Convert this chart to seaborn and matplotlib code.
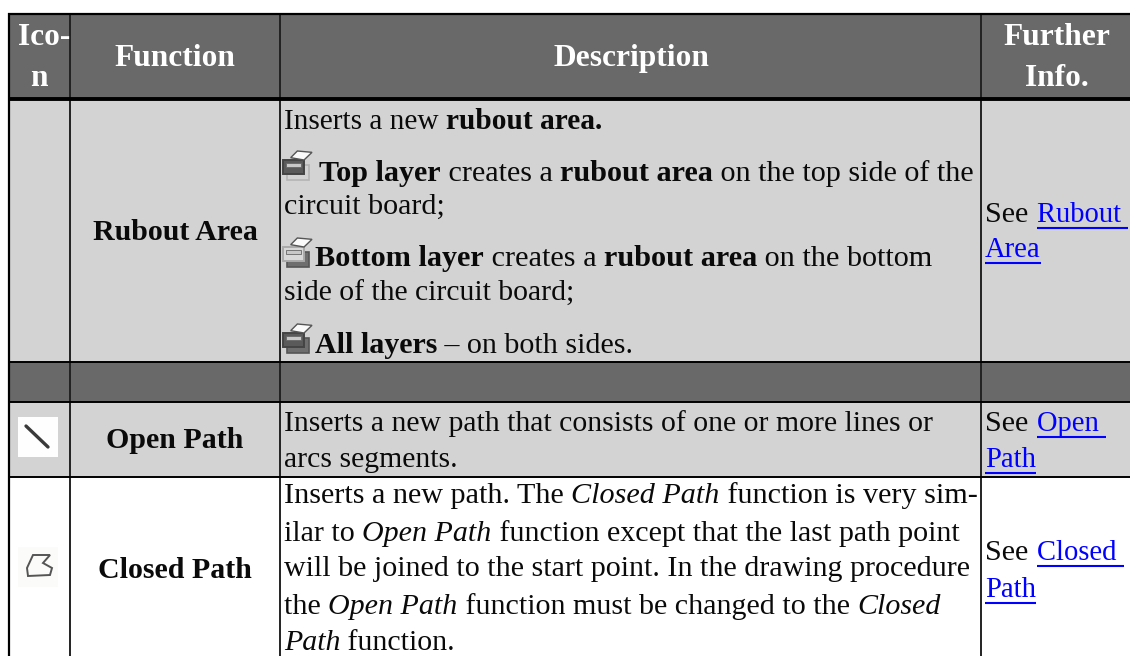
#!/usr/bin/env python
import seaborn as sns
import matplotlib
matplotlib.use('Agg')
import matplotlib.pyplot as plt
from matplotlib.patches import Polygon, Rectangle

# - Table content
header_lines = [['Ico-', 'n'], ['Function'], ['Description'], ['Further', 'Info.']]
function_names = ['Rubout Area', '', 'Open Path', 'Closed Path']

rubout_lines = [
    [('Inserts a new ', 'r'), ('rubout area.', 'b')],
    [('Top layer', 'b'), (' creates a ', 'r'), ('rubout area', 'b'), (' on the top side of the', 'r')],
    [('circuit board;', 'r')],
    [('Bottom layer', 'b'), (' creates a ', 'r'), ('rubout area', 'b'), (' on the bottom', 'r')],
    [('side of the circuit board;', 'r')],
    [('All layers', 'b'), (' \u2013 on both sides.', 'r')],
]
open_lines = [
    [('Inserts a new path that consists of one or more lines or', 'r')],
    [('arcs segments.', 'r')],
]
closed_lines = [
    [('Inserts a new path. The ', 'r'), ('Closed Path', 'i'), (' function is very sim-', 'r')],
    [('ilar to ', 'r'), ('Open Path', 'i'), (' function except that the last path point', 'r')],
    [('will be joined to the start point. In the drawing procedure', 'r')],
    [('the ', 'r'), ('Open Path', 'i'), (' function must be changed to the ', 'r'), ('Closed', 'i')],
    [('Path', 'i'), (' function.', 'r')],
]
info_links = [['Rubout ', 'Area'], ['Open ', 'Path'], ['Closed ', 'Path']]

# - Pixel layout
W, H = 1130, 656
col_lines = [70, 280, 981]
col_centres = [39, 175, 631, 1057]
row_edges = [14, 99, 362, 402, 477, 656]
row_colours = sns.color_palette(['#696969', '#d3d3d3', '#696969', '#d3d3d3', '#ffffff'])

BODY = 21.6
HEAD = 22.6
NAME = 21.5
LINK = 20.6
STYLES = {'r': {}, 'b': {'fontweight': 'bold'}, 'i': {'fontstyle': 'italic'}}

sns.set_theme(style='white')
plt.rcParams['font.family'] = ['Liberation Serif', 'DejaVu Serif']

fig = plt.figure(figsize=(W / 100, H / 100), dpi=100)
ax = fig.add_axes([0, 0, 1, 1])
ax.set_xlim(0, W)
ax.set_ylim(H, 0)
ax.axis('off')
renderer = fig.canvas.get_renderer()


def run_width(s, style, size=BODY):
    # bars either side so that leading/trailing spaces are counted
    a = ax.text(0, 0, '|' + s + '|', fontsize=size, **STYLES[style])
    b = ax.text(0, 0, '||', fontsize=size, **STYLES[style])
    w = a.get_window_extent(renderer).width - b.get_window_extent(renderer).width
    a.remove()
    b.remove()
    return w


def draw_line(x, y, runs, size=BODY):
    for s, style in runs:
        ax.text(x, y, s, fontsize=size, color='#0a0a0a', va='baseline', ha='left', **STYLES[style])
        x += run_width(s, style, size)


def draw_see(x, y, y2, link, link2):
    ax.text(x, y, 'See', fontsize=BODY, color='#0a0a0a', va='baseline')
    x2 = x + 52
    ax.text(x2, y, link, fontsize=LINK, color='#0000ff', va='baseline')
    ax.plot([x2, min(x2 + run_width(link, 'r', LINK), W - 2)], [y + 6, y + 6], color='#0000ff', lw=1.5, solid_capstyle='butt')
    ax.text(x, y2, link2, fontsize=LINK, color='#0000ff', va='baseline')
    ax.plot([x, x + run_width(link2, 'r', LINK)], [y2 + 6, y2 + 6], color='#0000ff', lw=1.5, solid_capstyle='butt')


def layer_icon(x0, y0, active):
    # three stacked layers, active one is darker
    def pts(p):
        return [(x0 + a / 3, y0 + b / 3) for a, b in p]
    low = '#6e6e6e' if active in ('bottom', 'all') else '#d3d3d3'
    mid = '#5a5a5a' if active in ('top', 'all') else '#d8d8d8'
    ax.add_patch(Polygon(pts([(26, 60), (92, 60), (92, 106), (26, 106)]), fc=low, ec='#555555' if low != '#d3d3d3' else '#b4b4b4', lw=1.2))
    ax.add_patch(Polygon(pts([(16, 44), (78, 44), (78, 88), (16, 88)]), fc=mid, ec='#444444' if mid == '#5a5a5a' else '#aaaaaa', lw=1.4))
    ax.add_patch(Rectangle((x0 + 25 / 3, y0 + 55 / 3), 45 / 3, 12 / 3, fc='#c8c8c8', ec='#666666', lw=.6))
    ax.add_patch(Polygon(pts([(38, 38), (58, 18), (102, 22), (78, 45)]), fc='#fbfbfb', ec='#555555', lw=1.))


# - Row fills
ax.barh(
    [(a + b) / 2 for a, b in zip(row_edges[:-1], row_edges[1:])],
    [W - 9] * 5,
    height=[b - a for a, b in zip(row_edges[:-1], row_edges[1:])],
    left=9,
    color=row_colours,
    linewidth=0,
)

# - Grid lines
for x in col_lines:
    ax.plot([x, x], [14, H], color='#222222', lw=1.4, solid_capstyle='butt')
ax.plot([9, 9], [13, H], color='black', lw=1.6, solid_capstyle='butt')
ax.plot([8, W], [14, 14], color='black', lw=1.6, solid_capstyle='butt')
ax.plot([8, W], [99, 99], color='black', lw=2.8, solid_capstyle='butt')
for y in row_edges[2:5]:
    ax.plot([8, W], [y, y], color='black', lw=1.4, solid_capstyle='butt')

# - Header
for cx, lines in zip(col_centres, header_lines):
    ys = [45, 86] if len(lines) == 2 else [66]
    for y, s in zip(ys, lines):
        x = 44 if s == 'Ico-' else cx
        ax.text(x, y, s, color='white', fontsize=HEAD, fontweight='bold', ha='center', va='baseline')

# - Function names
for y, name in zip([240, 0, 448, 578], function_names):
    if name:
        ax.text(col_centres[1], y, name, color='#0a0a0a', fontsize=NAME, fontweight='bold', ha='center', va='baseline')

# - Description, sizes nudged per line as the hinted original runs a bit uneven
rubout_y = [129, 181, 214, 266, 301, 353]
rubout_x = [284, 319, 284, 315, 284, 315]
rubout_sizes = [21.2, 21.7, 21.6, 21.75, 21.3, 21.6]
open_y = [431, 467]
open_sizes = [21.4, 21.4]
closed_y = [503, 541, 576, 614, 650]
closed_sizes = [21.7, 21.6, 21.6, 21.6, 21.5]
for x, y, runs, size in zip(rubout_x, rubout_y, rubout_lines, rubout_sizes):
    draw_line(x, y, runs, size)
for y, runs, size in zip(open_y, open_lines, open_sizes):
    draw_line(284, y, runs, size)
for y, runs, size in zip(closed_y, closed_lines, closed_sizes):
    draw_line(284, y, runs, size)

# - Further info
for (y, y2), (a, b) in zip([(222, 257), (431, 467), (560, 597)], info_links):
    draw_see(985, y, y2, a, b)

# - Icons
layer_icon(278, 145, 'top')
layer_icon(278, 232, 'bottom')
layer_icon(278, 318, 'all')

ax.add_patch(Rectangle((18, 417), 40, 40, fc='#fdfefd', ec='none'))
ax.plot([26, 48], [426, 447], color='#3a3a3a', lw=2.4, solid_capstyle='round')
ax.add_patch(Rectangle((18, 547), 40, 40, fc='#fbfbf9', ec='none'))
ax.add_patch(Polygon(
    [(28, 576), (27, 568), (33, 555), (50, 555), (43, 563), (52, 568), (50, 575)],
    fc='none', ec='#555555', lw=1.4,
))

plt.savefig('out.png', dpi=100, facecolor='white')
plt.close('all')
